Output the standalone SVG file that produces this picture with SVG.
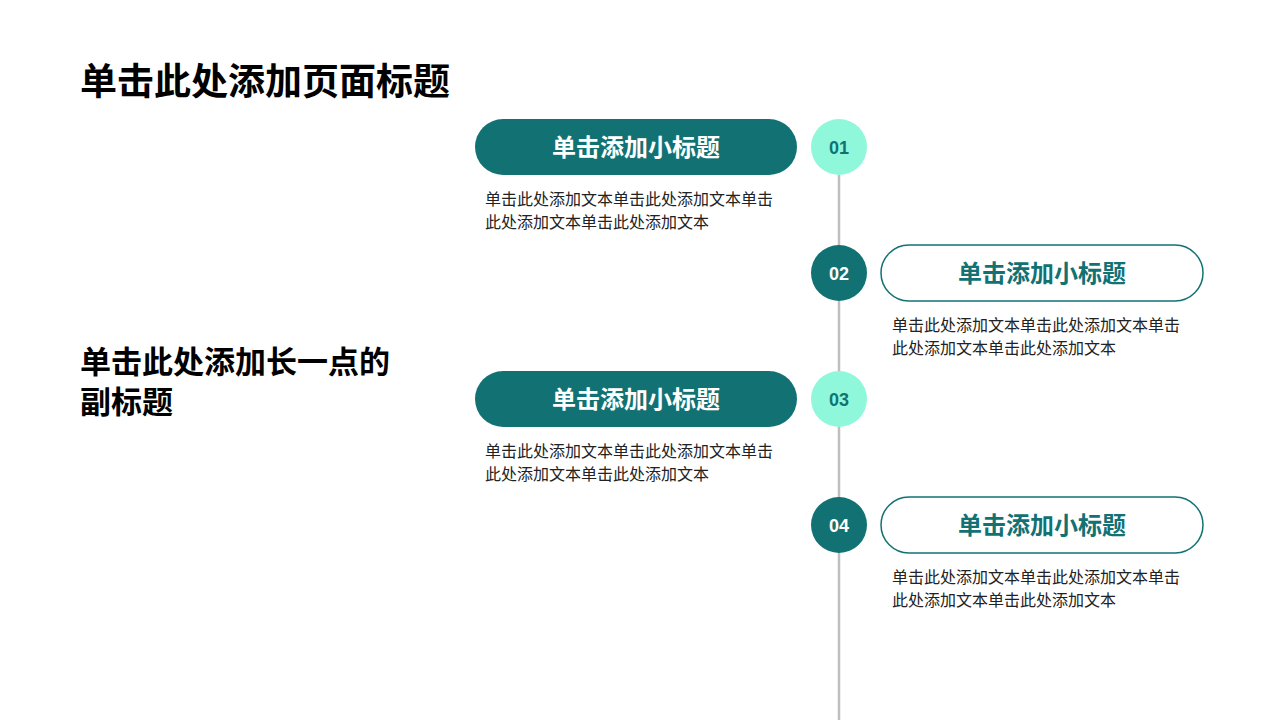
<svg xmlns="http://www.w3.org/2000/svg" width="1280" height="720" viewBox="0 0 1280 720">
<style>
text{font-family:"Noto Sans CJK SC","Liberation Sans",sans-serif}
.t{font-size:37px;font-weight:bold;fill:#000}
.s{font-size:31px;font-weight:bold;fill:#000}
.pf{fill:#127273}
.po{fill:#fff;stroke:#127273;stroke-width:1.5}
.pt{font-size:24px;font-weight:bold;text-anchor:middle}
.b{font-size:16px;fill:#222}
.n{font-family:"Liberation Sans",sans-serif;font-size:18px;font-weight:bold;text-anchor:middle}
</style>
<rect width="1280" height="720" fill="#fff"/>
<text class="t" x="80" y="95">单击此处添加页面标题</text>
<text class="s" x="80" y="373">单击此处添加长一点的</text>
<text class="s" x="80" y="413">副标题</text>
<g id="connectors"><line x1="839" y1="175" x2="839" y2="720" stroke="#bfbfbf" stroke-width="2.5"/></g>
<g id="n1"><rect class="pf" x="475" y="119" width="322" height="56" rx="28"/><text class="pt" x="636" y="156" fill="#fff">单击添加小标题</text>
<circle cx="839" cy="147" r="28" fill="#8ff8da"/><text class="n" x="839" y="154" fill="#127273">01</text>
<text class="b" x="485" y="205">单击此处添加文本单击此处添加文本单击</text><text class="b" x="485" y="228">此处添加文本单击此处添加文本</text></g>
<g id="n2"><rect class="po" x="881" y="245" width="322" height="56" rx="28"/><text class="pt" x="1042" y="282" fill="#127273">单击添加小标题</text>
<circle cx="839" cy="273" r="28" fill="#127273"/><text class="n" x="839" y="280" fill="#fff">02</text>
<text class="b" x="892" y="331">单击此处添加文本单击此处添加文本单击</text><text class="b" x="892" y="354">此处添加文本单击此处添加文本</text></g>
<g id="n3"><rect class="pf" x="475" y="371" width="322" height="56" rx="28"/><text class="pt" x="636" y="408" fill="#fff">单击添加小标题</text>
<circle cx="839" cy="399" r="28" fill="#8ff8da"/><text class="n" x="839" y="406" fill="#127273">03</text>
<text class="b" x="485" y="457">单击此处添加文本单击此处添加文本单击</text><text class="b" x="485" y="480">此处添加文本单击此处添加文本</text></g>
<g id="n4"><rect class="po" x="881" y="497" width="322" height="56" rx="28"/><text class="pt" x="1042" y="534" fill="#127273">单击添加小标题</text>
<circle cx="839" cy="525" r="28" fill="#127273"/><text class="n" x="839" y="532" fill="#fff">04</text>
<text class="b" x="892" y="583">单击此处添加文本单击此处添加文本单击</text><text class="b" x="892" y="606">此处添加文本单击此处添加文本</text></g>
</svg>
